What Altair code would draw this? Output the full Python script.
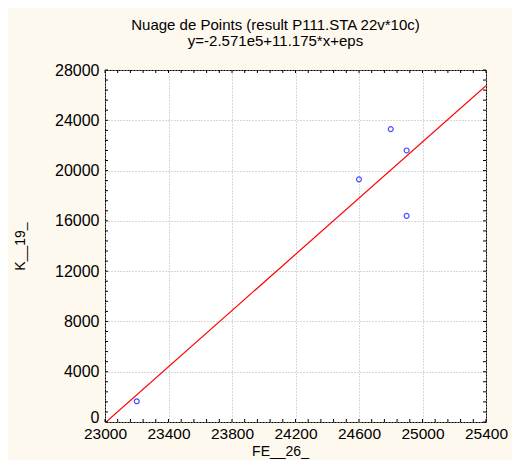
import altair as alt
import pandas as pd

# data
fe26 = [23200, 24600, 24800, 24900, 24900]
k19 = [1650, 19300, 23300, 21600, 16400]

# regression shown in subtitle
intercept = -2.571e5
slope = 11.175
line_x = [23000, 25400]

x_major = [23000, 23400, 23800, 24200, 24600, 25000, 25400]
y_major = [0, 4000, 8000, 12000, 16000, 20000, 24000, 28000]
x_minor = [23000 + 80 * i for i in range(31)]
y_minor = [800 * i for i in range(36)]

title_lines = ["Nuage de Points (result P111.STA 22v*10c)", "y=-2.571e5+11.175*x+eps"]

FONT = "Liberation Sans"
W, H = 381, 352

pts = pd.DataFrame({"x": fe26, "y": k19})
reg = pd.DataFrame({"x": line_x, "y": [intercept + slope * v for v in line_x]})
xt = pd.DataFrame({"x": x_minor})
yt = pd.DataFrame({"y": y_minor})

xscale = alt.Scale(domain=[23000, 25400], nice=False, zero=False)
yscale = alt.Scale(domain=[0, 28000], nice=False, zero=False)

xaxis = alt.Axis(
    values=x_major, format="d", grid=True, gridDash=[1, 2], gridColor="#b0b0b0",
    domain=False, ticks=False, labelFont=FONT, labelFontSize=15.5, labelColor="black",
    labelPadding=4, labelFlush=False, title="FE__26_", titleFont=FONT, titleFontSize=14,
    titleFontWeight="normal", titleColor="black", titleX=175, titleY=33,
    titleAlign="center", titleBaseline="alphabetic",
)
yaxis = alt.Axis(
    values=y_major, format="d", grid=True, gridDash=[1, 2], gridColor="#b0b0b0",
    domain=False, ticks=False, labelFont=FONT, labelFontSize=16, labelColor="black",
    labelBaseline=alt.ExprRef(expr="datum.value === 0 ? 'alphabetic' : 'middle'"),
    labelPadding=6, labelFlush=False, title="K__19_", titleFont=FONT, titleFontSize=14,
    titleFontWeight="normal", titleColor="black", titleX=-85, titleY=176,
    titleAngle=-90, titleAlign="center", titleBaseline="middle",
)

X = alt.X("x:Q", scale=xscale, axis=xaxis)
Y = alt.Y("y:Q", scale=yscale, axis=yaxis)

points = alt.Chart(pts).mark_point(
    shape="circle", size=24, filled=False, color="#0000ff", strokeWidth=1.2
).encode(x=X, y=Y)

line = alt.Chart(reg).mark_line(color="#ff0000", strokeWidth=1.2, clip=True).encode(x=X, y=Y)

tick_style = dict(color="black", strokeWidth=1)
xt_bot = alt.Chart(xt).mark_rule(**tick_style).encode(x=X, y=alt.value(H), y2=alt.value(H - 3))
xt_top = alt.Chart(xt).mark_rule(**tick_style).encode(x=X, y=alt.value(0), y2=alt.value(3))
yt_left = alt.Chart(yt).mark_rule(**tick_style).encode(y=Y, x=alt.value(0), x2=alt.value(3))
yt_right = alt.Chart(yt).mark_rule(**tick_style).encode(y=Y, x=alt.value(W), x2=alt.value(W - 3))

chart = alt.layer(line, points, xt_bot, xt_top, yt_left, yt_right).properties(
    width=W, height=H,
    autosize=alt.AutoSizeParams(type="none"),
    padding={"left": 97, "top": 62, "right": 26, "bottom": 38},
    background="#fef9ef",
    title=alt.TitleParams(
        text=title_lines, font=FONT, fontSize=15, fontWeight="normal", color="black",
        anchor="middle", frame="group", dx=-20, offset=13, lineHeight=16,
    ),
).configure_view(stroke="black", strokeWidth=1, fill="white")

chart.save("out.html", embed_options={"renderer": "svg", "actions": False})
